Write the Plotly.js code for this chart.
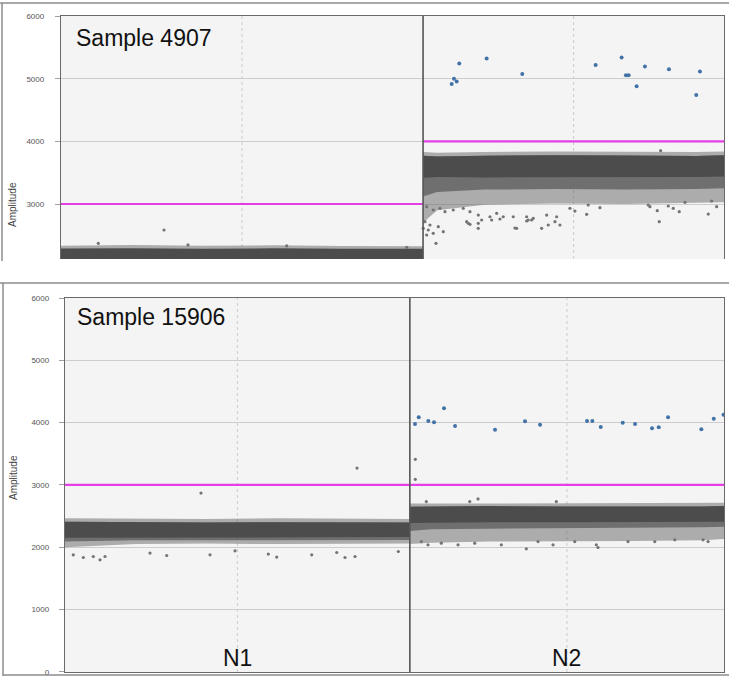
<!DOCTYPE html>
<html>
<head>
<meta charset="utf-8">
<script src="https://cdn.plot.ly/plotly-3.0.1.min.js"></script>
<style>html,body{margin:0;padding:0;background:#fff;}#chart{width:729px;height:676px;}</style>
</head>
<body>
<div id="chart"></div>
<script>
// ---------- DATA ----------
// Event (droplet) index where each channel ends: [N1 end, N2 end]
const topChannelEnds = [15400, 28200];
const botChannelEnds = [14600, 27900];
const channelNames = ["N1", "N2"];
const topThresholds = [3000, 4000];
const botThresholds = [3000, 3000];
const sampleNames = ["Sample 4907", "Sample 15906"];
const yTicks = [0, 1000, 2000, 3000, 4000, 5000, 6000];

// Dense negative-droplet bands: breakpoints and amplitude envelopes
const topN1BandX   = [0, 3000, 6000, 9000, 12000, 15400];
const topN1EdgeHi  = [2335, 2345, 2333, 2340, 2330, 2325];
const topN1CoreHi  = [2290, 2295, 2286, 2292, 2284, 2286];
const topN1Lo      = [1900, 1900, 1900, 1900, 1900, 1900];

const topN2BandX   = [15400, 16000, 18000, 21000, 24000, 27000, 28200];
const topN2EdgeHi  = [3830, 3820, 3830, 3840, 3835, 3830, 3840];
const topN2CoreHi  = [3770, 3760, 3770, 3778, 3774, 3768, 3778];
const topN2CoreLo  = [3420, 3430, 3425, 3420, 3430, 3432, 3438];
const topN2MidLo   = [3120, 3190, 3230, 3240, 3230, 3240, 3250];
const topN2HaloLo  = [2700, 2900, 2990, 3010, 3000, 3020, 3030];

const botN1BandX   = [0, 3000, 6000, 9000, 12000, 14600];
const botN1EdgeHi  = [2465, 2460, 2455, 2465, 2460, 2455];
const botN1CoreHi  = [2410, 2402, 2396, 2402, 2400, 2396];
const botN1CoreLo  = [2150, 2160, 2162, 2156, 2160, 2162];
const botN1MidLo   = [2090, 2110, 2115, 2110, 2112, 2115];
const botN1HaloLo  = [2000, 2050, 2060, 2050, 2050, 2060];

const botN2BandX   = [14600, 15500, 18000, 21000, 24000, 27000, 27900];
const botN2EdgeHi  = [2700, 2700, 2712, 2702, 2700, 2710, 2712];
const botN2CoreHi  = [2650, 2652, 2660, 2652, 2650, 2652, 2660];
const botN2CoreLo  = [2390, 2400, 2402, 2400, 2402, 2410, 2410];
const botN2MidLo   = [2260, 2290, 2300, 2310, 2310, 2320, 2330];
const botN2HaloLo  = [2050, 2070, 2090, 2100, 2100, 2110, 2130];

// Sparse (rain) droplets
const topN1RainX = [4381, 1586, 5401, 9599, 14703];
const topN1RainY = [2585, 2373, 2346, 2330, 2309];

const topN2RainX = [15553, 15834, 16119, 16332, 16684, 17110, 17395, 17748, 18245, 18530, 18811, 19236, 19806, 20087, 20657, 21082, 21648,
                    15481, 15694, 16047, 16260, 17254, 17395, 17748, 17892, 18317, 18670, 19381, 19806, 20019, 20444, 20725, 21010, 21222,
                    15553, 15834, 15949, 15409, 15621, 21860, 22358, 22426, 22924, 24978, 25050, 25361, 25446, 25829, 26041, 26296, 26539,
                    27530, 27674, 27887, 19308, 19874, 17322, 17748, 25505];
const topN2RainY = [2957, 2904, 2931, 2877, 2904, 2931, 2877, 2824, 2797, 2851, 2797, 2797, 2797, 2771, 2824, 2797, 2931,
                    2718, 2665, 2638, 2558, 2718, 2676, 2692, 2745, 2745, 2761, 2612, 2729, 2745, 2612, 2665, 2718, 2665,
                    2505, 2532, 2373, 2612, 2585, 2888, 2835, 2984, 2941, 2984, 2957, 2893, 2718, 2968, 2931, 2877, 3027,
                    2840, 3048, 2957, 2617, 2745, 2692, 2612, 3851];

const botN1RainX = [351, 775, 1198, 1482, 1694, 3599, 4306, 6139, 7198, 8608, 8964, 10445, 11504, 11855, 12279, 14112, 5758, 12363];
const botN1RainY = [1878, 1835, 1851, 1798, 1851, 1905, 1867, 1878, 1942, 1889, 1841, 1878, 1915, 1835, 1851, 1931, 2870, 3270];

const botN2RainX = [19531, 20662, 22495, 22567, 15086, 15369, 15933, 16640, 17347, 18473, 20027, 21581, 23837, 24968, 25815, 27013, 27225,
                    17486, 17135, 20802, 15297, 14832, 14830];
const botN2RainY = [1974, 2038, 2038, 1995, 2091, 2038, 2065, 2038, 2065, 2038, 2091, 2091, 2091, 2091, 2118, 2118, 2091,
                    2776, 2733, 2733, 2733, 3412, 3090];

// Positive droplets (blue)
const topPosX = [16617, 16715, 16830, 16940, 18105, 19620, 22740, 23846, 24029, 24144, 24484, 24837, 25858, 27019, 27177];
const topPosY = [4915, 5000, 4958, 5245, 5325, 5075, 5218, 5340, 5055, 5055, 4880, 5195, 5150, 4740, 5115];
const botPosX = [14819, 14976, 15382, 15623, 16047, 16513, 18206, 19476, 20112, 22102, 22326, 22682, 23613, 24134, 24853, 25137, 25531, 26941, 27466, 27880];
const botPosY = [3978, 4085, 4026, 4005, 4230, 3946, 3887, 4021, 3967, 4026, 4026, 3930, 4000, 3978, 3909, 3925, 4085, 3893, 4063, 4127];

// ---------- STYLE ----------
const W = 729, H = 676;
const MAGENTA = "#e43fe4";
const HALO = "rgba(100,100,100,0.5)";
const MID = "rgba(85,85,85,0.7)";
const CORE = "#4c4c4c";
const RAIN = "#747474";
const POS = "#4272a6";
const FONT = "Liberation Sans, Arial, sans-serif";

function band(xs, lo, hi, color, xa, ya) {
  return {
    type: "scatter", mode: "lines", xaxis: xa, yaxis: ya,
    x: xs.concat(xs.slice().reverse()),
    y: hi.concat(lo.slice().reverse()),
    fill: "toself", fillcolor: color, line: {width: 0}, hoverinfo: "skip", showlegend: false
  };
}
function pts(xs, ys, color, size, xa, ya) {
  return {type: "scatter", mode: "markers", xaxis: xa, yaxis: ya, x: xs, y: ys,
    marker: {color: color, size: size, line: {width: 0}}, hoverinfo: "skip", showlegend: false};
}
function threshold(ends, thr, xa, ya) {
  const out = [];
  [0, 1].forEach(i => {
    const x0 = i === 0 ? 0 : ends[0];
    out.push({type: "scatter", mode: "lines", xaxis: xa, yaxis: ya, x: [x0, ends[i]], y: [thr[i], thr[i]],
      line: {color: MAGENTA, width: 2.2}, hoverinfo: "skip", showlegend: false});
  });
  return out;
}

const traces = [
  // top panel
  band(topN1BandX, topN1Lo, topN1EdgeHi, HALO, "x", "y"),
  band(topN1BandX, topN1Lo, topN1CoreHi, CORE, "x", "y"),
  band(topN2BandX, topN2HaloLo, topN2EdgeHi, HALO, "x", "y"),
  band(topN2BandX, topN2MidLo, topN2CoreHi, MID, "x", "y"),
  band(topN2BandX, topN2CoreLo, topN2CoreHi, CORE, "x", "y"),
  pts(topN1RainX, topN1RainY, RAIN, 3.2, "x", "y"),
  pts(topN2RainX, topN2RainY, RAIN, 3.2, "x", "y"),
  ...threshold(topChannelEnds, topThresholds, "x", "y"),
  pts(topPosX, topPosY, POS, 4, "x", "y"),
  // bottom panel
  band(botN1BandX, botN1HaloLo, botN1EdgeHi, HALO, "x2", "y2"),
  band(botN1BandX, botN1MidLo, botN1CoreHi, MID, "x2", "y2"),
  band(botN1BandX, botN1CoreLo, botN1CoreHi, CORE, "x2", "y2"),
  band(botN2BandX, botN2HaloLo, botN2EdgeHi, HALO, "x2", "y2"),
  band(botN2BandX, botN2MidLo, botN2CoreHi, MID, "x2", "y2"),
  band(botN2BandX, botN2CoreLo, botN2CoreHi, CORE, "x2", "y2"),
  pts(botN1RainX, botN1RainY, RAIN, 3.2, "x2", "y2"),
  pts(botN2RainX, botN2RainY, RAIN, 3.2, "x2", "y2"),
  ...threshold(botChannelEnds, botThresholds, "x2", "y2"),
  pts(botPosX, botPosY, POS, 4, "x2", "y2")
];

const yAxisBase = {
  tickvals: yTicks, ticktext: yTicks.map(String),
  ticks: "outside", ticklen: 5, tickcolor: "#a0a0a0", tickwidth: 1,
  tickfont: {family: FONT, size: 8, color: "#555"},
  ticklabeloverflow: "allow",
  showgrid: true, gridcolor: "#cdcdcd", gridwidth: 1,
  zeroline: false, showline: true, mirror: true, linecolor: "#6a6a6a", linewidth: 1.2,
  fixedrange: true
};

const shapes = [];
function dividers(ends, xa, ya) {
  shapes.push({type: "line", xref: xa, yref: ya + " domain", x0: ends[0], x1: ends[0], y0: 0, y1: 1,
    line: {color: "#555", width: 1.6}, layer: "above"});
  [0, 1].forEach(i => {
    const x0 = i === 0 ? 0 : ends[0];
    const xm = (x0 + ends[i]) / 2;
    shapes.push({type: "line", xref: xa, yref: ya + " domain", x0: xm, x1: xm, y0: 0, y1: 1,
      line: {color: "#d2d2d2", width: 1.2, dash: "dot"}, layer: "below"});
  });
}
dividers(topChannelEnds, "x", "y");
dividers(botChannelEnds, "x2", "y2");
function px(x) { return x / W; }
function py(y) { return 1 - y / H; }
const frame = {color: "#8c8c8c", width: 1.5};
shapes.push({type: "line", xref: "paper", yref: "paper", x0: 0, x1: 1, y0: py(3), y1: py(3), line: frame});
shapes.push({type: "line", xref: "paper", yref: "paper", x0: px(2), x1: px(2), y0: py(3), y1: py(261), line: frame});
shapes.push({type: "line", xref: "paper", yref: "paper", x0: 0, x1: 1, y0: py(283), y1: py(283), line: frame});
shapes.push({type: "line", xref: "paper", yref: "paper", x0: px(3), x1: px(3), y0: py(283), y1: py(676), line: frame});
shapes.push({type: "line", xref: "paper", yref: "paper", x0: px(3), x1: 1, y0: py(675), y1: py(675), line: frame});

const annotations = [
  {xref: "x", yref: "y", x: 560, y: 5650, xanchor: "left", yanchor: "middle", text: sampleNames[0], showarrow: false,
   font: {family: FONT, size: 23, color: "#111"}},
  {xref: "x2", yref: "y2", x: 430, y: 5690, xanchor: "left", yanchor: "middle", text: sampleNames[1], showarrow: false,
   font: {family: FONT, size: 23, color: "#111"}},
  {xref: "x2", yref: "y2", x: botChannelEnds[0] / 2, y: 220, xanchor: "center", yanchor: "middle", text: channelNames[0], showarrow: false,
   font: {family: FONT, size: 23, color: "#111"}},
  {xref: "x2", yref: "y2", x: (botChannelEnds[0] + botChannelEnds[1]) / 2, y: 220, xanchor: "center", yanchor: "middle", text: channelNames[1], showarrow: false,
   font: {family: FONT, size: 23, color: "#111"}},
  {xref: "paper", yref: "paper", x: px(12), y: py(205), xanchor: "center", yanchor: "middle", text: "Amplitude", textangle: -90, showarrow: false,
   font: {family: FONT, size: 10, color: "#444"}},
  {xref: "paper", yref: "paper", x: px(14), y: py(478), xanchor: "center", yanchor: "middle", text: "Amplitude", textangle: -90, showarrow: false,
   font: {family: FONT, size: 10, color: "#444"}}
];

const layout = {
  width: W, height: H, margin: {l: 0, r: 0, t: 0, b: 0},
  paper_bgcolor: "#ffffff", plot_bgcolor: "#f4f4f4", showlegend: false,
  xaxis: {domain: [px(61), px(724)], range: [0, topChannelEnds[1]], side: "top", showticklabels: false, ticks: "",
          showgrid: false, zeroline: false, showline: true, linecolor: "#6a6a6a", linewidth: 1.2, fixedrange: true},
  yaxis: Object.assign({}, yAxisBase, {domain: [py(259), py(16)], range: [2122, 6002], ticklabelstandoff: 9, anchor: "x"}),
  xaxis2: {domain: [px(65), px(724)], range: [0, botChannelEnds[1]], showticklabels: false, ticks: "", anchor: "y2",
           showgrid: false, zeroline: false, showline: true, mirror: true, linecolor: "#6a6a6a", linewidth: 1.2, fixedrange: true},
  yaxis2: Object.assign({}, yAxisBase, {domain: [py(672), py(298)], range: [-4, 6002], ticklabelstandoff: 8, anchor: "x2"}),
  shapes: shapes,
  annotations: annotations
};

Plotly.newPlot("chart", traces, layout, {staticPlot: true, displayModeBar: false});
</script>
</body>
</html>
